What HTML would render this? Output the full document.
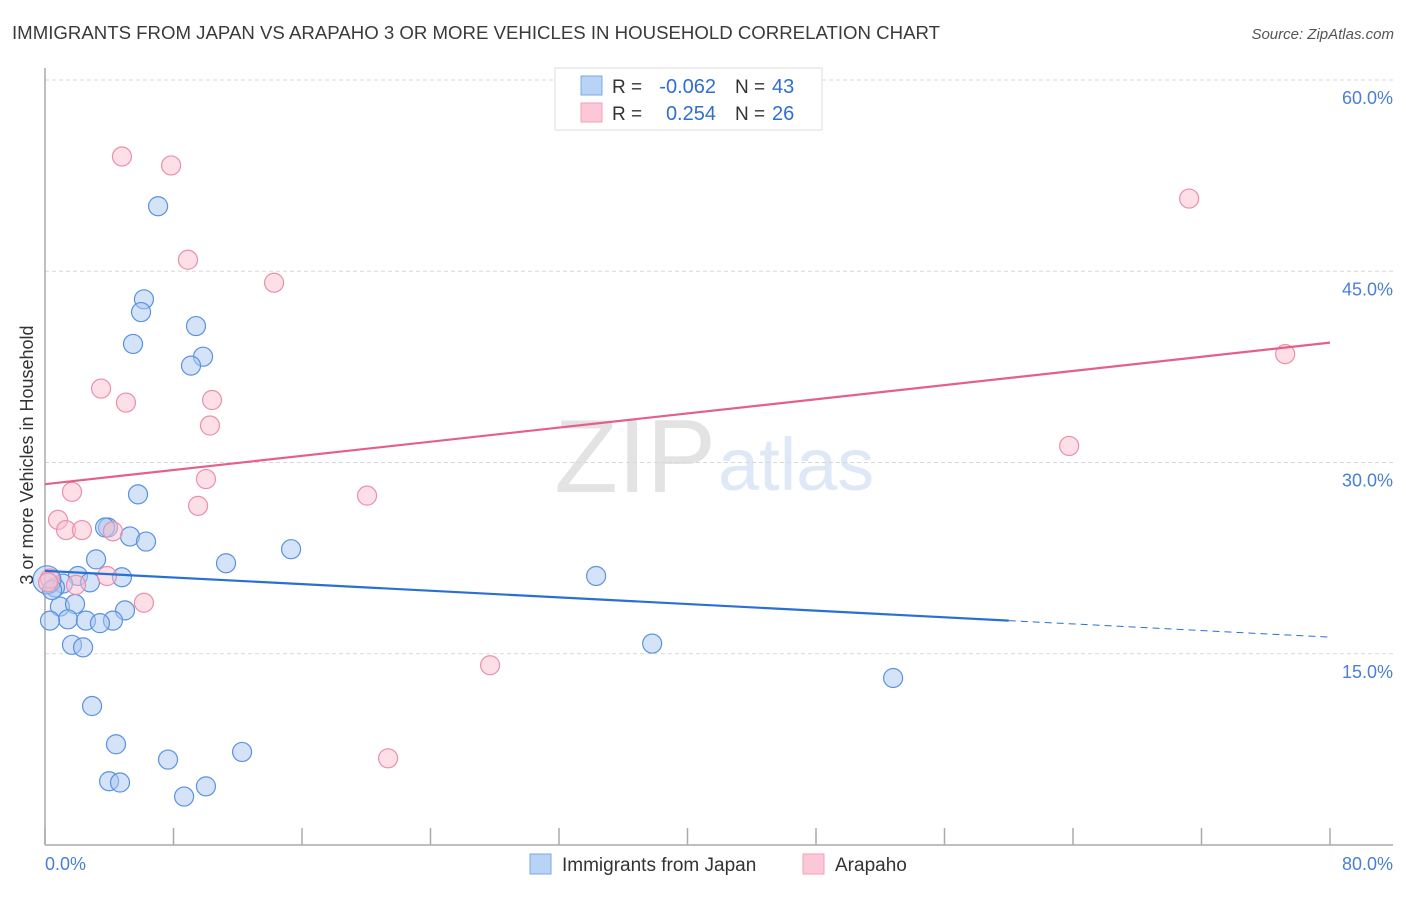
<!DOCTYPE html>
<html><head><meta charset="utf-8"><style>
body{margin:0;background:#fff;font-family:"Liberation Sans",sans-serif;}
svg text{font-family:"Liberation Sans",sans-serif;}
</style></head><body>
<svg id="chart" width="1406" height="892" viewBox="0 0 1406 892">
<text x="12" y="39" font-size="18.6" fill="#3a3a3a" textLength="928" lengthAdjust="spacingAndGlyphs">IMMIGRANTS FROM JAPAN VS ARAPAHO 3 OR MORE VEHICLES IN HOUSEHOLD CORRELATION CHART</text>
<text x="1394" y="39" font-size="15" fill="#555" font-style="italic" text-anchor="end">Source: ZipAtlas.com</text>
<text x="716" y="492" font-size="104" fill="#e3e3e3" text-anchor="end" font-family="Liberation Serif">ZIP</text>
<text x="718" y="490" font-size="74" fill="#dfe8f6">atlas</text>
<g id="grid"></g>
<g id="axes"></g>
<g id="pts"></g>
<g id="lines"></g>
<text x="33" y="455" font-size="18" fill="#333" text-anchor="middle" transform="rotate(-90 33 455)">3 or more Vehicles in Household</text>
<text x="45" y="870" font-size="18" fill="#4a7fd4">0.0%</text>
<text x="1393" y="870" font-size="18" fill="#4a7fd4" text-anchor="end">80.0%</text>
<g>
<rect x="555" y="68" width="267" height="62" fill="#fff" stroke="#ddd"/>
<rect x="581" y="76" width="21" height="19" fill="#b8d3f5" stroke="#7aa8e6"/>
<rect x="581" y="103" width="21" height="19" fill="#fcc8d8" stroke="#f0a0b8"/>
<text x="612" y="93" font-size="19" fill="#333">R =</text>
<text x="716" y="93" font-size="20" fill="#2f6fd0" text-anchor="end">-0.062</text>
<text x="735" y="93" font-size="19" fill="#333">N =</text>
<text x="772" y="93" font-size="20" fill="#2f6fd0">43</text>
<text x="612" y="120" font-size="19" fill="#333">R =</text>
<text x="716" y="120" font-size="20" fill="#2f6fd0" text-anchor="end">0.254</text>
<text x="735" y="120" font-size="19" fill="#333">N =</text>
<text x="772" y="120" font-size="20" fill="#2f6fd0">26</text>
</g>
<g>
<rect x="530" y="854" width="21" height="20" fill="#b8d3f5" stroke="#7aa8e6"/>
<text x="562" y="871" font-size="19" fill="#333">Immigrants from Japan</text>
<rect x="803" y="854" width="21" height="20" fill="#fcc8d8" stroke="#f0a0b8"/>
<text x="835" y="871" font-size="19" fill="#333">Arapaho</text>
</g>
</svg>
<script>
const yTicks=[15,30,45,60];
const yTickLabels=["15.0%","30.0%","45.0%","60.0%"];
const xTicks=[0,8,16,24,32,40,48,56,64,72,80];
const japanX=[7.04,6.16,5.98,9.40,5.48,9.84,9.09,5.79,3.92,3.74,5.29,6.29,3.18,11.27,15.32,4.79,2.05,2.80,1.12,0.62,0.12,0.93,1.87,4.98,1.43,2.55,4.23,3.42,0.31,1.68,2.37,2.93,4.42,7.66,12.27,3.99,4.67,8.66,10.02,34.31,37.80,52.80,0.44];
const japanY=[50.1,42.8,41.8,40.7,39.3,38.3,37.6,27.5,24.9,24.9,24.2,23.8,22.4,22.1,23.2,21.0,21.1,20.6,20.5,20.2,20.8,18.7,18.9,18.4,17.7,17.6,17.6,17.4,17.6,15.7,15.5,10.9,7.9,6.7,7.3,5.0,4.9,3.8,4.6,21.1,15.8,13.1,20.0];
const arapahoX=[4.79,7.85,8.90,14.26,3.49,5.04,10.40,10.27,10.02,1.68,9.53,20.05,0.81,1.31,2.30,4.23,3.86,1.93,6.16,27.71,21.36,71.23,77.21,63.76,0.31,0.19];
const arapahoY=[54.0,53.3,45.9,44.1,35.8,34.7,34.9,32.9,28.7,27.7,26.6,27.4,25.5,24.7,24.7,24.6,21.1,20.4,19.0,14.1,6.8,50.7,38.5,31.3,20.9,20.6];
const japanTrend=[21.5,16.3];
const japanSolidEnd=60;
const arapahoTrend=[28.3,39.4];
const NS="http://www.w3.org/2000/svg";
const sx=v=>45+v*(1330-45)/80;
const sy=v=>845-v*(845-80)/60;
function mk(tag,attrs,parent){const e=document.createElementNS(NS,tag);for(const k in attrs)e.setAttribute(k,attrs[k]);parent.appendChild(e);return e;}
const grid=document.getElementById('grid'),axes=document.getElementById('axes'),pts=document.getElementById('pts'),lines=document.getElementById('lines');
yTicks.forEach((t,i)=>{
  const l=mk('line',{x1:45,x2:1393,y1:sy(t),y2:sy(t),stroke:'#d8d8d8','stroke-dasharray':'4,3'},grid);
  
  
  const tx=mk('text',{x:1393,y:sy(t)+24,'font-size':18,fill:'#4a7fd4','text-anchor':'end'},grid);
  tx.textContent=yTickLabels[i];
  
  
});
const ya=mk('line',{x1:45,x2:45,y1:68,y2:845,stroke:'#aaa','stroke-width':1.5},axes);


const xa=mk('line',{x1:45,x2:1393,y1:845,y2:845,stroke:'#aaa','stroke-width':1.5},axes);


xTicks.forEach(t=>{
  const l=mk('line',{x1:sx(t),x2:sx(t),y1:828,y2:845,stroke:'#aaa','stroke-width':1.5},axes);
  
  
});
function drawPts(xs,ys,fill,stroke,name,bigIdx){
  xs.forEach((x,i)=>{
    const c=mk('circle',{cx:sx(x),cy:sy(ys[i]),r:i===bigIdx?14:9.5,fill:fill,'fill-opacity':0.5,stroke:stroke,'stroke-width':1.2},pts);
    
    
  });
}
drawPts(japanX,japanY,'#a9c8f0','#5a92e0','japan-point',20);
drawPts(arapahoX,arapahoY,'#f9c0d0','#ec8fab','arapaho-point',-1);
const jy=x=>japanTrend[0]+(japanTrend[1]-japanTrend[0])*x/80;
const l1=mk('line',{x1:sx(0),y1:sy(jy(0)),x2:sx(japanSolidEnd),y2:sy(jy(japanSolidEnd)),stroke:'#2a6fd6','stroke-width':2.2},lines);


const l2=mk('line',{x1:sx(japanSolidEnd),y1:sy(jy(japanSolidEnd)),x2:sx(80),y2:sy(jy(80)),stroke:'#2a6fd6','stroke-width':1,'stroke-dasharray':'7,5'},lines);


const l3=mk('line',{x1:sx(0),y1:sy(arapahoTrend[0]),x2:sx(80),y2:sy(arapahoTrend[1]),stroke:'#e4608a','stroke-width':2.2},lines);


</script>
</body></html>
